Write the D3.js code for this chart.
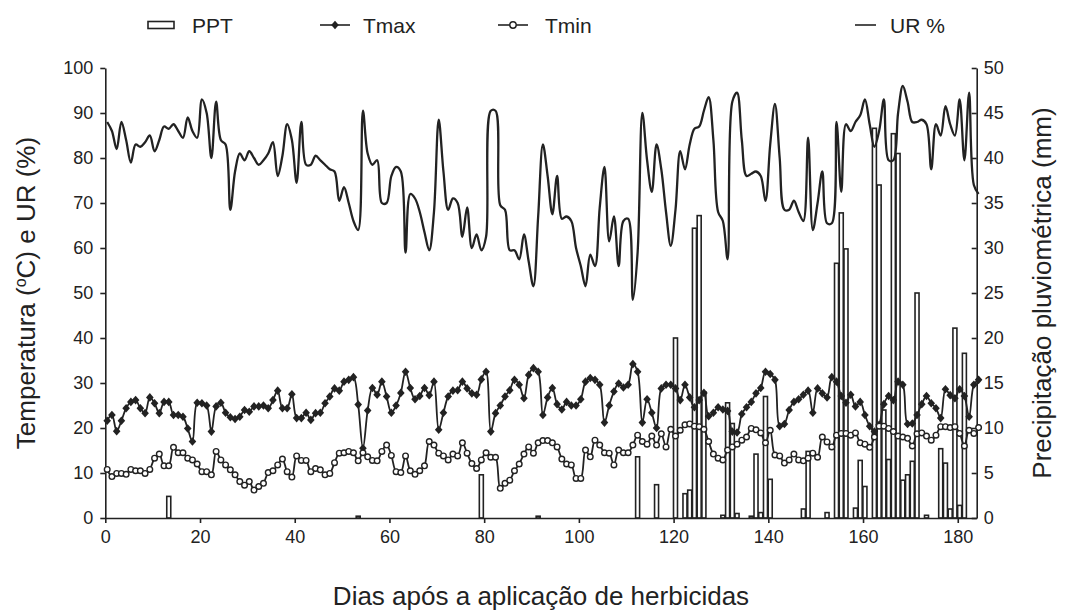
<!DOCTYPE html>
<meta charset="utf-8">
<html>
  <head>
    <style>
      body { margin: 0; background: #fff; }
      text { font-family: "Liberation Sans", Arial, sans-serif; fill: #222; }
      .axis text { font-size: 18px; }
      .axis path, .axis line { stroke: #222; stroke-width: 1.6px; }
    </style>
    <script src="https://d3js.org/d3.v7.min.js"></script>
  </head>
  <body>
    <script>

      var width = 1068;
      var height = 612;

      // daily series, index = day
      var tmax = [21.6,22.9,19.3,21.6,24.4,25.8,26.2,24.4,23.3,26.8,25.5,23.3,25.8,25.8,22.9,22.9,22.5,19.9,17,25.6,
        25.5,25,19.2,24.8,25.6,23.4,22.4,22,22.5,24,23.6,24.8,24.8,25,24.4,26.2,28.3,24.4,24.4,27.5,
        22.2,22.2,23.4,21.8,23.3,
        23.4,25.5,27,28.8,28.3,30.3,30.7,31.3,25.2,15.5,23.9,28.9,27.4,30.3,27,23.4,25,27.8,32.5,28.9,
        26.4,27.1,28.9,27.3,30.3,19.6,23.4,27,28.3,28.4,30.3,28.8,27.7,27.4,30.8,32.5,19.2,23.3,25,27,
        28.4,30.7,29.6,26.6,31.8,
        33.3,32.5,22.9,26.8,28.9,25.3,24.1,25.8,25,25,26.4,30.3,31.1,30.7,29.6,21.2,25,28.1,29.9,29,
        29.6,34.2,32.5,21.2,26.4,23.4,20,28.8,29.6,29.6,28.8,26.2,29.6,26.8,24.6,26.2,27.8,22.6,23.4,24.6,
        24.1,23.8,
        19.2,19,23.1,24.6,25.8,27.7,28.9,32.5,32,30.7,20.4,20.9,24,25.8,26.4,27.4,28.3,23.4,28.8,27.7,
        26.8,31.3,30.3,27.1,25.6,27.4,24.8,25.8,22.9,20.4,19.2,20.7,25.3,27.1,26.2,30.3,29.6,20.9,21,22.9,
        25.3,27.1,25.5,24.4,22.2,28.6,27.3,26.6,28.6,27.1,22.5,29.6,30.7];

      var tmin = [10.8,9.2,9.9,9.9,9.7,10.8,10.5,10.5,9.9,10.8,13.3,14.2,11.6,11.6,15.7,14.5,14.5,13.3,12.9,12,
        10.3,10.3,9.6,14.8,12.9,11.8,10.7,9.6,8.1,7.3,8.1,6.2,7,7.7,10.1,10.5,11.8,13.1,10.3,9.1,
        13.8,12.8,12.8,10.3,11,
        10.7,9.6,9.9,12.3,14.4,14.5,14.8,
        14.5,12.7,14.5,13.6,12.8,12.7,14.8,16.2,13.9,10.3,10.1,13.8,10.5,9.7,10.5,11.6,17,16.2,14.4,13.8,
        12.9,14.2,13.8,16.7,14.4,12.1,11,12.9,14.5,13.5,13.5,6.6,7.7,8.4,10.5,12,14.2,15.8,
        14.4,16.7,17.2,17.2,16.7,15.8,13.1,12,11.8,8.8,8.8,15.1,13.6,17.3,16.2,14.5,14.4,11.8,15.1,14.5,
        14.5,16.2,18.4,17,16.4,18.2,16.2,18.7,15.8,19.7,18.2,19.5,20.7,20.9,20.4,20.3,19.7,17,14.2,13.3,
        12.9,15.1,
        15.8,16.4,17.3,18,19.9,19.6,18.9,16.7,19.5,14,13.8,12.2,12.9,14.2,12.9,12.7,13.3,14.4,13.5,18,
        16.9,15.8,18.4,18.8,18.8,18.4,18.9,16.7,16.4,15.7,18,20.4,20.4,19.9,19.2,18.2,18,17.7,16,18.7,
        18.9,18.2,17.3,18.4,20.3,20.3,20.1,20.3,18.8,16,19.5,18.8,20.1];

      var ur = [88,86,82,88,84,79,83,82.5,83.5,85,81.5,84,87,86.5,87.5,86,84.5,89,86,84.5,
        93,90,80,92.5,84,83,68.5,77,81,79.5,81.5,80,78.5,79.5,81,83.5,76,80.5,87.5,84,
        74.5,88,78.5,78.5,80.5,79.5,78.5,77.5,77,70.5,73.5,70,66,64,90.5,81,78.5,79.5,70,70,
        76,78,77,59,72,71,68,63.5,59.5,68,88.5,77,68.5,71,70,62.5,69,60,63,59.5,
        62.5,90.5,90.5,69.5,68.5,59.5,59.5,57.5,63,57,51.5,67,83,76,67.5,76,66.5,67,66,60,
        56,51.5,58.5,56,69,78,61.5,67,56,66,66.5,48.5,59,90,79.5,72.5,83,77.5,68,60.5,
        68.5,81.5,77.5,83,86.5,87,90.5,93.5,84,68,66,57.5,92.5,94.5,84,76,76.5,77,76,70.5,
        83,92,80,68.5,68.5,70.5,68,66,84.5,64,70,77,65.5,65.5,88,72.5,87.5,86,88,89.5,
        93,87.5,82.5,86,93,79.5,79.5,90,96,92.5,88,88,88.5,87.5,77.5,87.5,85,91.5,87.5,85,
        93,79.5,94.5,74,72];

      // rain days and amounts (mm)
      var pptDay = [13,53,79,91,112,116,120,122,123,124,125,126,130,131,132,133,136,137,138,139,140,
        147,148,152,154,155,156,158,159,160,162,163,164,165,166,167,168,169,170,171,173,176,177,178,179,180,181];
      var pptMm = [2.4,0.2,4.8,0.2,6.8,3.7,20,2.7,3.1,32.2,33.6,14,0.3,12.8,10.5,0.5,0.2,7.1,0.6,13.5,4.3,
        1,7.4,0.6,28.3,33.9,29.9,1.1,6.4,3.5,43.3,37,12,6.5,42.7,40.5,4.2,4.8,6.3,25,0.3,7.7,6.1,1,21.1,1.4,18.3];

      var xTicks = [0,20,40,60,80,100,120,140,160,180];
      var yLeftTicks = [0,10,20,30,40,50,60,70,80,90,100];
      var yRightTicks = [0,5,10,15,20,25,30,35,40,45,50];

      var x0 = 105.3, x1 = 976.7, yTop = 68, yBot = 518;
      var off = 0.4; // points sit a bit right of the day tick

      var x = d3.scaleLinear().domain([0, 184]).range([x0, x1]);
      var yL = d3.scaleLinear().domain([0, 100]).range([yBot, yTop]);
      var yR = d3.scaleLinear().domain([0, 50]).range([yBot, yTop]);

      var svg = d3.select('body').append('svg')
          .attr('width', width)
          .attr('height', height);

      // bars
      var barW = 4;
      svg.append('g').selectAll('rect')
          .data(pptDay)
          .enter().append('rect')
          .attr('x', function(d) { return x(d + off) - barW / 2; })
          .attr('y', function(d, i) { return yR(pptMm[i]); })
          .attr('width', barW)
          .attr('height', function(d, i) { return yBot - yR(pptMm[i]); })
          .attr('fill', '#fff')
          .attr('stroke', '#222')
          .attr('stroke-width', 1.6);

      // axes
      svg.append('g')
          .attr('class', 'axis')
          .attr('transform', 'translate(' + x0 + ',0)')
          .call(d3.axisLeft(yL).tickValues(yLeftTicks).tickSize(5).tickPadding(7).tickSizeOuter(0));

      svg.append('g')
          .attr('class', 'axis')
          .attr('transform', 'translate(' + x1 + ',0)')
          .call(d3.axisRight(yR).tickValues(yRightTicks).tickSize(-5).tickPadding(7).tickSizeOuter(0));

      svg.append('g')
          .attr('class', 'axis')
          .attr('transform', 'translate(0,' + yBot + ')')
          .call(d3.axisBottom(x).tickValues(xTicks).tickSize(5).tickPadding(7).tickSizeOuter(0));

      var line = function(yScale) {
        return d3.line()
          .curve(d3.curveCatmullRom.alpha(0.5))
          .x(function(d, i) { return x(i + off); })
          .y(function(d) { return yScale(d); });
      };

      // UR
      svg.append('path')
          .datum(ur)
          .attr('d', line(yL))
          .attr('fill', 'none')
          .attr('stroke', '#222')
          .attr('stroke-width', 2.3);

      // Tmax
      svg.append('path')
          .datum(tmax)
          .attr('d', line(yL))
          .attr('fill', 'none')
          .attr('stroke', '#222')
          .attr('stroke-width', 1.8);

      var diamond = 'M0,-4.3L3.8,0L0,4.3L-3.8,0Z';

      svg.append('g').selectAll('path')
          .data(tmax)
          .enter().append('path')
          .attr('d', diamond)
          .attr('transform', function(d, i) { return 'translate(' + x(i + off) + ',' + yL(d) + ')'; })
          .attr('fill', '#222');

      // Tmin
      svg.append('path')
          .datum(tmin)
          .attr('d', line(yL))
          .attr('fill', 'none')
          .attr('stroke', '#222')
          .attr('stroke-width', 1.8);

      svg.append('g').selectAll('circle')
          .data(tmin)
          .enter().append('circle')
          .attr('cx', function(d, i) { return x(i + off); })
          .attr('cy', function(d) { return yL(d); })
          .attr('r', 2.8)
          .attr('fill', '#fff')
          .attr('stroke', '#222')
          .attr('stroke-width', 1.4);

      // axis titles
      var lt = svg.append('text')
          .attr('transform', 'translate(35,' + ((yTop + yBot) / 2) + ')rotate(-90)')
          .attr('text-anchor', 'middle')
          .style('font-size', '26px');
      lt.append('tspan').text('Temperatura (');
      lt.append('tspan').text('o').attr('dy', -9).style('font-size', '16px');
      lt.append('tspan').text('C) e UR (%)').attr('dy', 9);

      svg.append('text')
          .attr('transform', 'translate(1051,' + ((yTop + yBot) / 2) + ')rotate(-90)')
          .attr('text-anchor', 'middle')
          .style('font-size', '26px')
          .text('Precipitação pluviométrica (mm)');

      svg.append('text')
          .attr('x', (x0 + x1) / 2)
          .attr('y', 605)
          .attr('text-anchor', 'middle')
          .style('font-size', '26px')
          .text('Dias após a aplicação de herbicidas');

      // legend
      var ly = 25;
      var leg = svg.append('g').style('font-size', '21px');

      leg.append('rect').attr('x', 148).attr('y', ly - 3.5).attr('width', 26).attr('height', 7)
          .attr('fill', '#fff').attr('stroke', '#222').attr('stroke-width', 1.6);
      leg.append('text').attr('x', 192).attr('y', ly + 7.5).text('PPT');

      leg.append('line').attr('x1', 320).attr('x2', 350).attr('y1', ly).attr('y2', ly)
          .attr('stroke', '#222').attr('stroke-width', 1.6);
      leg.append('path').attr('d', diamond).attr('transform', 'translate(335,' + ly + ')').attr('fill', '#222');
      leg.append('text').attr('x', 363).attr('y', ly + 7.5).text('Tmax');

      leg.append('line').attr('x1', 498).attr('x2', 528).attr('y1', ly).attr('y2', ly)
          .attr('stroke', '#222').attr('stroke-width', 1.6);
      leg.append('circle').attr('cx', 513).attr('cy', ly).attr('r', 3.2)
          .attr('fill', '#fff').attr('stroke', '#222').attr('stroke-width', 1.4);
      leg.append('text').attr('x', 545).attr('y', ly + 7.5).text('Tmin');

      leg.append('line').attr('x1', 855).attr('x2', 876).attr('y1', ly).attr('y2', ly)
          .attr('stroke', '#222').attr('stroke-width', 1.6);
      leg.append('text').attr('x', 890).attr('y', ly + 7.5).text('UR %');

    </script>
  </body>
</html>
